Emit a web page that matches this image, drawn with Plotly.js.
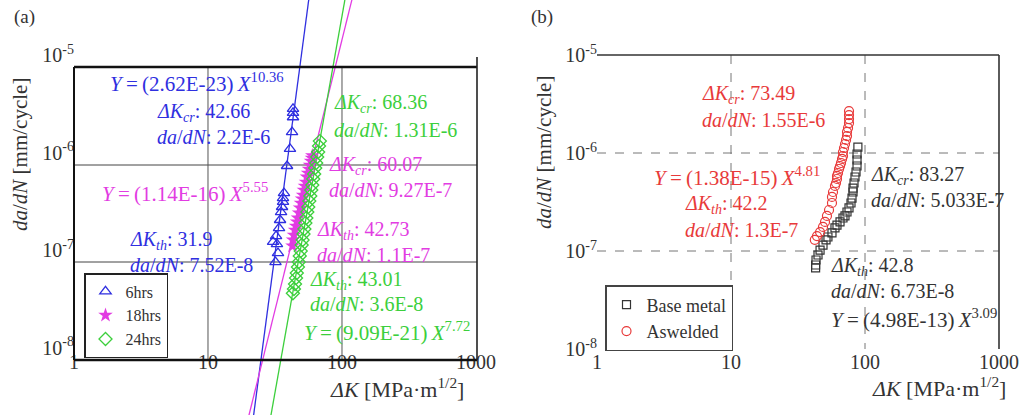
<!DOCTYPE html>
<html><head><meta charset="utf-8">
<script src="https://cdn.plot.ly/plotly-3.0.1.min.js"></script>
<style>html,body{margin:0;padding:0;background:#fff}#chart{width:1025px;height:415px}</style>
</head><body><div id="chart"></div>
<script>
// ---------- Panel (a) data ----------
const k6hrs = [43.1, 43.1, 43.1, 42.4, 40.9, 38.9, 36.9, 36.3, 36.3, 35.7, 35.1, 34.5, 33.9, 32.2, 30.6, 32.7, 33.3, 31.9];
const da6hrs = [2.8e-6, 2.55e-6, 2.3e-6, 1.62e-6, 1.09e-6, 7.27e-7, 3.84e-7, 3.41e-7, 3.11e-7, 2.76e-7, 2.45e-7, 2.03e-7, 1.68e-7, 1.39e-7, 1.21e-7, 1.15e-7, 9.3e-8, 7.52e-8];

const k18hrs = [42.73, 43.1, 43.8, 44.6, 45.4, 46.2, 46.9, 47.8, 48.6, 49.4, 50.3, 51.2, 52.0, 52.9, 53.9, 54.8, 55.8, 56.7, 57.7, 58.7, 59.7, 60.07];
const da18hrs = [1.1e-7, 1.27e-7, 1.42e-7, 1.6e-7, 1.76e-7, 1.94e-7, 2.13e-7, 2.4e-7, 2.7e-7, 3.03e-7, 3.34e-7, 3.66e-7, 4.12e-7, 4.53e-7, 4.98e-7, 5.61e-7, 6.16e-7, 6.77e-7, 7.44e-7, 8.18e-7, 8.78e-7, 9.27e-7];

const k24hrs = [43.01, 43.8, 44.6, 45.4, 46.0, 46.9, 47.6, 48.4, 49.2, 50.0, 50.8, 51.6, 52.4, 53.3, 54.2, 55.1, 56.0, 57.0, 58.0, 59.0, 60.0, 61.0, 62.0, 63.1, 64.2, 65.3, 66.4, 67.4, 68.36];
const da24hrs = [3.6e-8, 3.98e-8, 4.48e-8, 5.16e-8, 5.81e-8, 6.69e-8, 7.53e-8, 8.68e-8, 9.76e-8, 1.125e-7, 1.267e-7, 1.459e-7, 1.642e-7, 1.891e-7, 2.129e-7, 2.453e-7, 2.761e-7, 3.181e-7, 3.58e-7, 4.124e-7, 4.642e-7, 5.35e-7, 6.02e-7, 6.93e-7, 7.8e-7, 8.99e-7, 1.012e-6, 1.166e-6, 1.31e-6];

// Fitted power-law lines (end points)
const fitK6 = [18, 60],   fitY6 = [2.65e-10, 6.92e-5];
const fitK18 = [18, 150], fitY18 = [1.06e-9, 1.36e-4];
const fitK24 = [25, 130], fitY24 = [5.63e-10, 1.90e-4];

// ---------- Panel (b) data ----------
const kWeld = [75.97, 75.97, 75.97, 75.97, 74.7, 73.4, 73.4, 72.2, 70.9, 69.7, 68.5, 68.5, 67.4, 66.2, 65.1, 64.0, 62.9, 61.8, 61.8, 60.75, 59.7, 57.7, 56.7, 56.7, 53.9, 52.0, 50.3, 48.6, 46.2, 43.8, 42.2];
const daWeld = [2.68e-6, 2.44e-6, 2.22e-6, 2.02e-6, 1.80e-6, 1.64e-6, 1.49e-6, 1.36e-6, 1.235e-6, 1.124e-6, 1.024e-6, 9.32e-7, 8.69e-7, 7.91e-7, 7.37e-7, 6.87e-7, 6.25e-7, 5.83e-7, 5.43e-7, 4.94e-7, 4.61e-7, 4.0e-7, 3.56e-7, 3.09e-7, 2.62e-7, 2.28e-7, 1.98e-7, 1.76e-7, 1.56e-7, 1.42e-7, 1.3e-7];

const kBase = [88.5, 87.2, 87.2, 87.2, 85.7, 84.2, 82.8, 81.4, 81.4, 80.0, 78.6, 75.97, 73.4, 70.9, 68.5, 65.1, 61.8, 59.7, 56.7, 52.9, 51.2, 48.6, 46.2, 44.6, 43.1, 42.8, 42.8];
const daBase = [1.15e-6, 9.77e-7, 8.48e-7, 7.37e-7, 6.40e-7, 5.69e-7, 4.94e-7, 4.39e-7, 4.0e-7, 3.47e-7, 3.09e-7, 2.75e-7, 2.50e-7, 2.28e-7, 2.17e-7, 1.98e-7, 1.84e-7, 1.72e-7, 1.53e-7, 1.39e-7, 1.30e-7, 1.15e-7, 1.02e-7, 9.1e-8, 8.09e-8, 7.2e-8, 6.73e-8];

// ---------- tick labels ----------
const xTickVals = [1, 10, 100, 1000];
const xTickText = ['1', '10', '100', '1000'];
const yTickVals = [1e-8, 1e-7, 1e-6, 1e-5];
const yTickText = ['10<sup>-8</sup>', '10<sup>-7</sup>', '10<sup>-6</sup>', '10<sup>-5</sup>'];

// ---------- styles ----------
const W = 1025, H = 415;
const FONT = 'Liberation Serif, Times New Roman, serif';
const BLUE = '#2f2fe0', MAG = '#e23ce2', GREEN = '#3ccf3c', RED = '#e83a3a', DARK = '#333333';
const px = v => v / W, py = v => 1 - v / H;

const traces = [
  {x: fitK6, y: fitY6, mode: 'lines', line: {color: BLUE, width: 1.3}, showlegend: false, hoverinfo: 'skip', xaxis: 'x', yaxis: 'y'},
  {x: fitK18, y: fitY18, mode: 'lines', line: {color: MAG, width: 1.3}, showlegend: false, hoverinfo: 'skip', xaxis: 'x', yaxis: 'y'},
  {x: fitK24, y: fitY24, mode: 'lines', line: {color: GREEN, width: 1.3}, showlegend: false, hoverinfo: 'skip', xaxis: 'x', yaxis: 'y'},
  {x: k6hrs, y: da6hrs, name: '6hrs', mode: 'markers', marker: {symbol: 'triangle-up-open', size: 10, color: BLUE, line: {width: 1.3}}, xaxis: 'x', yaxis: 'y', legend: 'legend'},
  {x: k18hrs, y: da18hrs, name: '18hrs', mode: 'markers', marker: {symbol: 'star', size: 11, color: MAG, line: {width: 0}}, xaxis: 'x', yaxis: 'y', legend: 'legend'},
  {x: k24hrs, y: da24hrs, name: '24hrs', mode: 'markers', marker: {symbol: 'diamond-open', size: 10, color: GREEN, line: {width: 1.3}}, xaxis: 'x', yaxis: 'y', legend: 'legend'},
  {x: kBase, y: daBase, name: 'Base metal', mode: 'markers', marker: {symbol: 'square-open', size: 8, color: DARK, line: {width: 1.2}}, xaxis: 'x2', yaxis: 'y2', legend: 'legend2'},
  {x: kWeld, y: daWeld, name: 'Aswelded', mode: 'markers', marker: {symbol: 'circle-open', size: 9, color: RED, line: {width: 1.2}}, xaxis: 'x2', yaxis: 'y2', legend: 'legend2'}
];

const tickFont = {family: FONT, size: 20, color: DARK};
function xAxis(domain, range, pos) {
  return {type: 'log', domain: domain, range: range, anchor: 'free', position: pos,
    showgrid: false, zeroline: false, showline: false, ticks: '',
    tickmode: 'array', tickvals: xTickVals, ticktext: xTickText, tickfont: tickFont};
}
function yAxis(range, pos) {
  return {type: 'log', domain: [0, 1], range: range, anchor: 'free', position: pos,
    showgrid: false, zeroline: false, showline: false, ticks: '',
    tickmode: 'array', tickvals: yTickVals, ticktext: yTickText, tickfont: tickFont};
}

function ann(text, x, y, color, extra) {
  return Object.assign({text: text, xref: 'paper', yref: 'paper', x: px(x), y: py(y),
    xanchor: 'left', yanchor: 'middle', showarrow: false,
    font: {family: FONT, size: 20, color: color}}, extra || {});
}
const KCR = '<i>ΔK</i><sub><i>cr</i></sub>: ';
const KTH = '<i>ΔK</i><sub><i>th</i></sub>: ';
const DADN = '<i>da</i>/<i>dN</i>: ';
const EQ = (c, e) => '<i>Y</i>\u2009=\u2009(' + c + ')\u2009<i>X</i><sup>' + e + '</sup>';

const annotations = [
  ann('(a)', 12, 17, DARK, {font: {family: FONT, size: 19, color: DARK}}),
  ann('(b)', 529, 17, DARK, {font: {family: FONT, size: 19, color: DARK}}),
  ann(EQ('2.62E-23', '10.36'), 108, 82, BLUE, {font: {family: FONT, size: 21, color: BLUE}}),
  ann(KCR + '42.66', 155, 112, BLUE),
  ann(DADN + '2.2E-6', 155, 137, BLUE),
  ann(EQ('1.14E-16', '5.55'), 100, 192, MAG, {font: {family: FONT, size: 21, color: MAG}}),
  ann(KTH + '31.9', 128, 240, BLUE),
  ann(DADN + '7.52E-8', 128, 265, BLUE),
  ann(KCR + '68.36', 332, 104, GREEN),
  ann(DADN + '1.31E-6', 332, 130, GREEN),
  ann(KCR + '60.07', 327, 165, MAG),
  ann(DADN + '9.27E-7', 327, 190, MAG),
  ann(KTH + '42.73', 315, 230, MAG),
  ann(DADN + '1.1E-7', 315, 255, MAG),
  ann(KTH + '43.01', 308, 280, GREEN),
  ann(DADN + '3.6E-8', 308, 304, GREEN),
  ann(EQ('9.09E-21', '7.72'), 302, 331, GREEN, {font: {family: FONT, size: 21, color: GREEN}}),
  ann(KCR + '73.49', 700, 95, RED),
  ann(DADN + '1.55E-6', 700, 120, RED),
  ann(EQ('1.38E-15', '4.81'), 652, 176, RED, {font: {family: FONT, size: 21, color: RED}}),
  ann(KTH + '42.2', 683, 205, RED),
  ann(DADN + '1.3E-7', 683, 230, RED),
  ann(KCR + '83.27', 869, 175, DARK),
  ann(DADN + '5.033E-7', 869, 200, DARK),
  ann(KTH + '42.8', 829, 266, DARK),
  ann(DADN + '6.73E-8', 829, 291, DARK),
  ann(EQ('4.98E-13', '3.09'), 829, 318, DARK, {font: {family: FONT, size: 21, color: DARK}}),
  // axis titles
  ann('<i>ΔK</i> [MPa·m<sup>1/2</sup>]', 328, 388, DARK, {font: {family: FONT, size: 22, color: DARK}}),
  ann('<i>ΔK</i> [MPa·m<sup>1/2</sup>]', 870, 387, DARK, {font: {family: FONT, size: 22, color: DARK}}),
  ann('<i>da</i>/<i>dN</i> [mm/cycle]', 20, 155, DARK, {xanchor: 'center', textangle: -90, font: {family: FONT, size: 21, color: DARK}}),
  ann('<i>da</i>/<i>dN</i> [mm/cycle]', 544, 153, DARK, {xanchor: 'center', textangle: -90, font: {family: FONT, size: 21, color: DARK}})
];

function seg(x0, y0, x1, y1, color, width, dash, layer) {
  return {type: 'line', xref: 'paper', yref: 'paper', x0: px(x0), y0: py(y0), x1: px(x1), y1: py(y1),
    line: {color: color, width: width, dash: dash || 'solid'}, layer: layer || 'above'};
}
function dseg(xr, yr, x0, y0, x1, y1, color, width, dash, layer) {
  return {type: 'line', xref: xr, yref: yr, x0: x0, y0: y0, x1: x1, y1: y1,
    line: {color: color, width: width, dash: dash || 'solid'}, layer: layer || 'below'};
}

const shapes = [
  // panel (a) frame (drawn offset from data scale, as in the original)
  seg(74, 67, 477, 67, '#111', 2.6),
  seg(74, 67, 74, 360, '#111', 2),
  seg(74, 360, 477, 360, '#111', 2.6),
  seg(477, 57, 477, 360, '#222', 1.6),
  seg(74, 165, 477, 165, '#444', 1, 'solid', 'below'),
  seg(74, 262, 477, 262, '#444', 1, 'solid', 'below'),
  {type: 'line', xref: 'x', yref: 'paper', x0: 10, x1: 10, y0: py(67), y1: py(360), line: {color: '#555', width: 1}, layer: 'below'},
  {type: 'line', xref: 'x', yref: 'paper', x0: 100, x1: 100, y0: py(67), y1: py(360), line: {color: '#555', width: 1}, layer: 'below'},
  // panel (b) frame and dashed grid
  dseg('x2', 'y2', 1, 1e-5, 1000, 1e-5, '#333', 1.6, 'solid', 'above'),
  dseg('x2', 'y2', 1000, 1e-5, 1000, 1e-8, '#333', 1.6, 'solid', 'above'),
  dseg('x2', 'y2', 10, 1e-5, 10, 1e-8, '#777', 1, 'dash'),
  dseg('x2', 'y2', 100, 1e-5, 100, 1e-8, '#777', 1, 'dash'),
  dseg('x2', 'y2', 1, 1e-6, 1000, 1e-6, '#777', 1, 'dash'),
  dseg('x2', 'y2', 1, 1e-7, 1000, 1e-7, '#777', 1, 'dash')
];

const layout = {
  width: W, height: H, margin: {l: 0, r: 0, t: 0, b: 0},
  paper_bgcolor: '#fff', plot_bgcolor: 'rgba(0,0,0,0)',
  font: {family: FONT, color: DARK},
  xaxis: xAxis([0, 512 / W], [-0.5522, 3.2687], py(348)),
  yaxis: yAxis([-8.6923, -4.4359], px(74)),
  xaxis2: xAxis([512 / W, 1], [-0.6343, 3.1940], py(348)),
  yaxis2: yAxis([-8.6735, -4.4388], px(597)),
  legend: {x: px(84), y: py(358), xanchor: 'left', yanchor: 'bottom', bgcolor: '#fff',
    bordercolor: '#222', borderwidth: 1.5, font: {family: FONT, size: 16, color: DARK}, itemwidth: 30, tracegroupgap: 0},
  legend2: {x: px(605), y: py(318), xanchor: 'left', yanchor: 'middle', bgcolor: '#fff',
    bordercolor: '#444', borderwidth: 1.5, font: {family: FONT, size: 18, color: DARK}, itemwidth: 30, tracegroupgap: 0},
  shapes: shapes,
  annotations: annotations,
  showlegend: true
};

Plotly.newPlot('chart', traces, layout, {staticPlot: true, displayModeBar: false});
</script>
</body></html>
